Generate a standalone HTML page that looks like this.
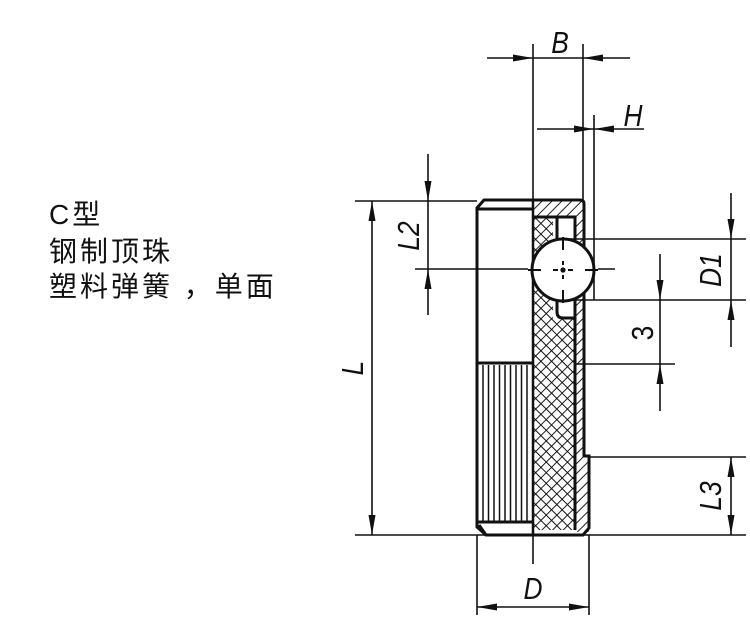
<!DOCTYPE html>
<html><head><meta charset="utf-8"><style>
html,body{margin:0;padding:0;background:#fff;width:750px;height:625px;overflow:hidden}
.t{position:absolute;left:49px;font-family:"Liberation Sans","Noto Sans CJK SC",sans-serif;font-size:28px;line-height:28px;letter-spacing:3px;color:#111;white-space:nowrap}
</style></head><body>
<div class="t" style="top:201px">C型</div>
<div class="t" style="top:238px">钢制顶珠</div>
<div class="t" style="top:273px">塑料弹簧 ，单面</div>
<svg width="750" height="625" style="position:absolute;left:0;top:0" xmlns="http://www.w3.org/2000/svg">
<defs>
<pattern id="x" width="7.5" height="7.5" patternUnits="userSpaceOnUse" patternTransform="rotate(45)">
<path d="M0 0H7.5M0 0V7.5" stroke="#111" stroke-width="1.9"/>
</pattern>
<pattern id="s" width="7" height="7" patternUnits="userSpaceOnUse" patternTransform="rotate(45)">
<path d="M0 0V7" stroke="#111" stroke-width="1.9"/>
</pattern>
<marker id="a" viewBox="0 0 20 7" refX="20" refY="3.5" markerWidth="20" markerHeight="7" markerUnits="userSpaceOnUse" orient="auto">
<path d="M0 0L20 3.5L0 7Z" fill="#111"/>
</marker>
</defs>
<g stroke="#111" fill="none" stroke-width="1.6">
<rect x="533" y="217" width="42" height="313" fill="url(#x)" stroke="none"/>
<rect x="533" y="200" width="51" height="17" fill="url(#s)" stroke="none"/>
<rect x="575" y="217" width="9" height="239" fill="url(#s)" stroke="none"/>
<rect x="575" y="456" width="14" height="76" fill="url(#s)" stroke="none"/>
<path d="M553 217H575V318H553Z" fill="#fff" stroke="none"/>
<path d="M557 217V312Q557 318 563 318H575" stroke-width="3"/>
<path d="M484 200H580Q584 200 584 204V456H589V528L583 535H486L477 527V208Z" stroke-width="3"/>
<path d="M477 209H533M477 363H533M477 522H533M533 217H575V530M486 535L479 525" stroke-width="3"/>
<path d="M533 200V535" stroke-width="2.5"/>
<g stroke-width="1.5">
<path d="M483 365V521M488.5 365V521M494 365V521M499.5 365V521M505 365V521M510.5 365V521M516 365V521M521.5 365V521M527 365V521"/>
</g>
<circle cx="563" cy="270" r="31" fill="#fff" stroke-width="3"/>
<path d="M528 270H541M553 270H558M568 270H573M585 270H598M563 237V250M563 261V265M563 275V279M563 290V303" stroke-width="2"/>
<circle cx="563" cy="270" r="1.8" fill="#111"/>
<path d="M533 44V200M583 44V200M594 115V300"/>
<path d="M355 201H477M355 535H746M415 269H528M598 269H615M565 239H746M575 300H746M575 364H675M589 457H746"/>
<path d="M477 535V615M589 535V615M533 535V564"/>
<path d="M487 58H533" marker-end="url(#a)"/><path d="M630 58H583" marker-end="url(#a)"/><path d="M533 58H583"/>
<path d="M537 129H594" marker-end="url(#a)"/><path d="M644 129H594" marker-end="url(#a)"/>
<path d="M372 368V201" marker-end="url(#a)"/><path d="M372 368V535" marker-end="url(#a)"/>
<path d="M428 154V201" marker-end="url(#a)"/><path d="M428 315V269" marker-end="url(#a)"/><path d="M428 201V269"/>
<path d="M731 193V239" marker-end="url(#a)"/><path d="M731 347V300" marker-end="url(#a)"/><path d="M731 239V300"/>
<path d="M660 254V300" marker-end="url(#a)"/><path d="M660 411V364" marker-end="url(#a)"/><path d="M660 300V364"/>
<path d="M731 496V457" marker-end="url(#a)"/><path d="M731 496V535" marker-end="url(#a)"/>
<path d="M533 607H477" marker-end="url(#a)"/><path d="M533 607H589" marker-end="url(#a)"/>
</g>
<g font-family="Liberation Sans,sans-serif" font-size="31" font-style="italic" fill="#111" text-anchor="middle">
<text transform="translate(560,53) scale(0.85,1)">B</text>
<text transform="translate(633,126) scale(0.85,1)">H</text>
<text transform="translate(533,599) scale(0.85,1)">D</text>
<text transform="translate(363,368) rotate(-90) scale(0.85,1)">L</text>
<text transform="translate(419,236) rotate(-90) scale(0.85,1)">L2</text>
<text transform="translate(721,270) rotate(-90) scale(0.85,1)">D1</text>
<text transform="translate(653,333) rotate(-90) scale(0.85,1)" font-style="normal">3</text>
<text transform="translate(721,496) rotate(-90) scale(0.85,1)">L3</text>
</g>
</svg>
</body></html>
